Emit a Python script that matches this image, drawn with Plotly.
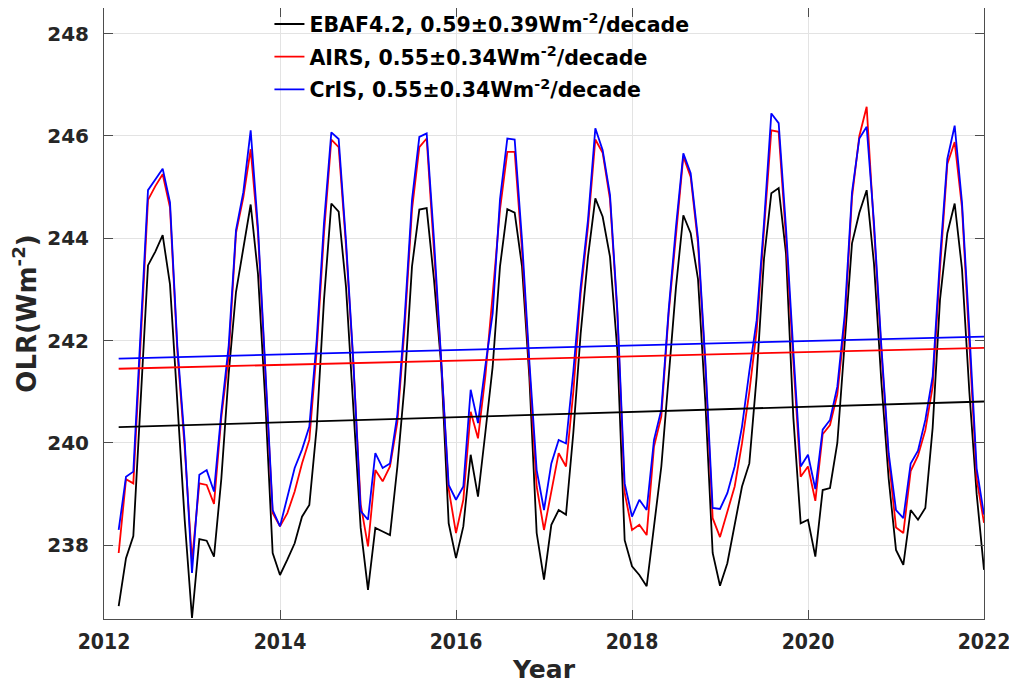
import plotly.graph_objects as go

# ---- data (monthly, Feb 2012 .. Dec 2021) ----
start_year = 2012
start_month = 2
n_months = 119
time = [start_year + (start_month - 1 + i + 1) / 12 for i in range(n_months)]

ebaf = [
    236.81, 237.75, 238.18, 240.9, 243.47, 243.74, 244.06, 243.1, 240.8, 238.5, 236.58,
    238.12, 238.09, 237.78, 239.3, 241.35, 242.95, 243.8, 244.66, 243.3, 240.8, 237.85, 237.42,
    237.72, 238.04, 238.56, 238.79, 240.3, 242.8, 244.68, 244.52, 243.05, 240.8, 238.34, 237.13,
    238.34, 238.27, 238.2, 239.53, 241.16, 243.45, 244.56, 244.59, 243.19, 241.48, 238.43, 237.75,
    238.37, 239.77, 238.95, 240.2, 241.49, 243.45, 244.57, 244.5, 243.45, 241.29, 238.24, 237.33,
    238.4, 238.69, 238.6, 240.2, 242.14, 243.64, 244.78, 244.42, 243.64, 241.81, 238.1, 237.59,
    237.42, 237.2, 238.37, 239.54, 241.29, 243.05, 244.45, 244.1, 243.2, 240.8, 237.85, 237.21,
    237.65, 238.37, 239.15, 239.6, 241.3, 243.6, 244.88, 244.98, 243.7, 240.5, 238.43, 238.5,
    237.78, 239.08, 239.12, 240.0, 242.0, 243.9, 244.5, 244.94, 243.5, 241.2, 239.3, 237.91,
    237.62, 238.69, 238.5, 238.73, 240.3, 242.8, 244.1, 244.68, 243.4, 241.0, 239.0, 237.52,
]

airs = [
    237.85, 239.29, 239.21, 241.88, 244.75, 245.02, 245.25, 244.6, 241.8, 239.91, 237.7,
    239.21, 239.18, 238.81, 240.5, 241.7, 244.1, 244.8, 245.74, 244.1, 241.4, 238.63, 238.37,
    238.63, 239.05, 239.6, 240.06, 241.8, 244.1, 245.93, 245.78, 243.85, 241.55, 238.8, 237.98,
    239.47, 239.25, 239.54, 240.4, 242.27, 244.56, 245.78, 245.95, 243.84, 241.55, 239.1, 238.24,
    238.89, 240.61, 240.09, 241.3, 242.9, 244.56, 245.69, 245.69, 243.77, 241.48, 239.15, 238.3,
    239.02, 239.8, 239.54, 241.0, 242.92, 244.23, 245.93, 245.67, 244.76, 242.53, 239.03, 238.3,
    238.4, 238.2, 239.93, 240.52, 242.53, 244.1, 245.6, 245.2, 243.9, 241.5, 238.53, 238.16,
    238.63, 239.15, 239.99, 241.0, 242.2, 244.1, 246.11, 246.08, 244.0, 241.6, 239.34, 239.54,
    238.87, 240.17, 240.35, 240.95, 242.3, 244.8, 246.0, 246.57, 244.2, 241.8, 239.7, 238.35,
    238.24, 239.45, 239.75, 240.25, 241.1, 243.4, 245.45, 245.88, 244.6, 242.0, 239.3, 238.44,
]

cris = [
    238.3, 239.34, 239.44, 242.2, 244.94, 245.15, 245.36, 244.7, 241.9, 240.04, 237.46,
    239.38, 239.47, 239.05, 240.6, 241.9, 244.16, 244.9, 246.11, 244.2, 241.5, 238.69, 238.37,
    238.95, 239.51, 239.87, 240.32, 242.0, 244.3, 246.07, 245.94, 243.95, 241.6, 238.67, 238.5,
    239.8, 239.51, 239.6, 240.55, 242.45, 244.75, 245.98, 246.05, 243.97, 241.6, 239.18, 238.89,
    239.15, 241.04, 240.39, 241.5, 242.53, 244.76, 245.95, 245.93, 243.97, 241.6, 239.47, 238.69,
    239.6, 240.06, 239.99, 241.4, 243.05, 244.36, 246.15, 245.72, 244.85, 242.6, 239.21, 238.56,
    238.89, 238.69, 240.06, 240.65, 242.6, 244.23, 245.66, 245.27, 244.0, 241.6, 238.73, 238.71,
    239.02, 239.54, 240.32, 241.4, 242.4, 244.3, 246.44, 246.25, 244.2, 241.8, 239.54, 239.77,
    239.1, 240.26, 240.45, 241.1, 242.5, 244.9, 245.95, 246.18, 244.3, 241.9, 239.8, 238.69,
    238.53, 239.6, 239.85, 240.45, 241.3, 243.6, 245.55, 246.2, 244.7, 242.2, 239.5, 238.6,
]

# linear trend lines (value at first and last month)
ebaf_trend = [240.31, 240.81]
airs_trend = [241.45, 241.86]
cris_trend = [241.65, 242.08]

names = [
    "EBAF4.2, 0.59\u00b10.39Wm<sup>-2</sup>/decade",
    "AIRS, 0.55\u00b10.34Wm<sup>-2</sup>/decade",
    "CrIS, 0.55\u00b10.34Wm<sup>-2</sup>/decade",
]
colors = ["#000000", "#ff0000", "#0000ff"]
series = [ebaf, airs, cris]
trends = [ebaf_trend, airs_trend, cris_trend]

fig = go.Figure()
for s, nm, c, g in zip(series, names, colors, ["a", "b", "c"]):
    fig.add_trace(go.Scatter(x=time, y=s, mode="lines", name=nm, legendgroup=g,
                             line=dict(color=c, width=1.8)))
trend_x = [time[0], time[-1]]
for t, c in zip(trends, colors):
    fig.add_trace(go.Scatter(x=trend_x, y=t, mode="lines", showlegend=False,
                             line=dict(color=c, width=1.8)))

ytick_font = dict(family="DejaVu Sans", size=20, color="#262626", weight="bold")
xtick_font = dict(family="DejaVu Sans Condensed", size=21, color="#262626", weight="bold")

fig.update_layout(
    width=1009, height=676,
    margin=dict(l=96, r=33, t=0, b=65, autoexpand=False),
    paper_bgcolor="white", plot_bgcolor="white",
    showlegend=True,
    legend=dict(x=0.188, y=1.0063, xanchor="left", yanchor="top",
                bgcolor="rgba(0,0,0,0)", borderwidth=0,
                font=dict(family="DejaVu Sans", size=20.5, color="#000000", weight="bold"),
                tracegroupgap=3),
    xaxis=dict(range=[2012, 2022], tickmode="array", tickvals=[2012, 2014, 2016, 2018, 2020, 2022],
               showgrid=True, gridcolor="#e3e3e3", gridwidth=1, zeroline=False,
               ticks="inside", ticklen=9, tickcolor="#4d4d4d", mirror="ticks",
               showline=True, linecolor="#4d4d4d", linewidth=1,
               tickfont=xtick_font, ticklabelstandoff=4,
               title=dict(text="Year", standoff=14,
                          font=dict(family="DejaVu Sans", size=25, color="#262626", weight="bold"))),
    yaxis=dict(range=[236.56, 248.5], tickmode="array", tickvals=[238, 240, 242, 244, 246, 248],
               showgrid=True, gridcolor="#e3e3e3", gridwidth=1, zeroline=False,
               ticks="inside", ticklen=9, tickcolor="#4d4d4d", mirror="ticks",
               showline=True, linecolor="#4d4d4d", linewidth=1,
               tickfont=ytick_font, ticklabelstandoff=10,
               title=dict(text="OLR(Wm<sup>-2</sup>)", standoff=4,
                          font=dict(family="DejaVu Sans", size=26, color="#262626", weight="bold"))),
)

fig.write_html("out.html")
